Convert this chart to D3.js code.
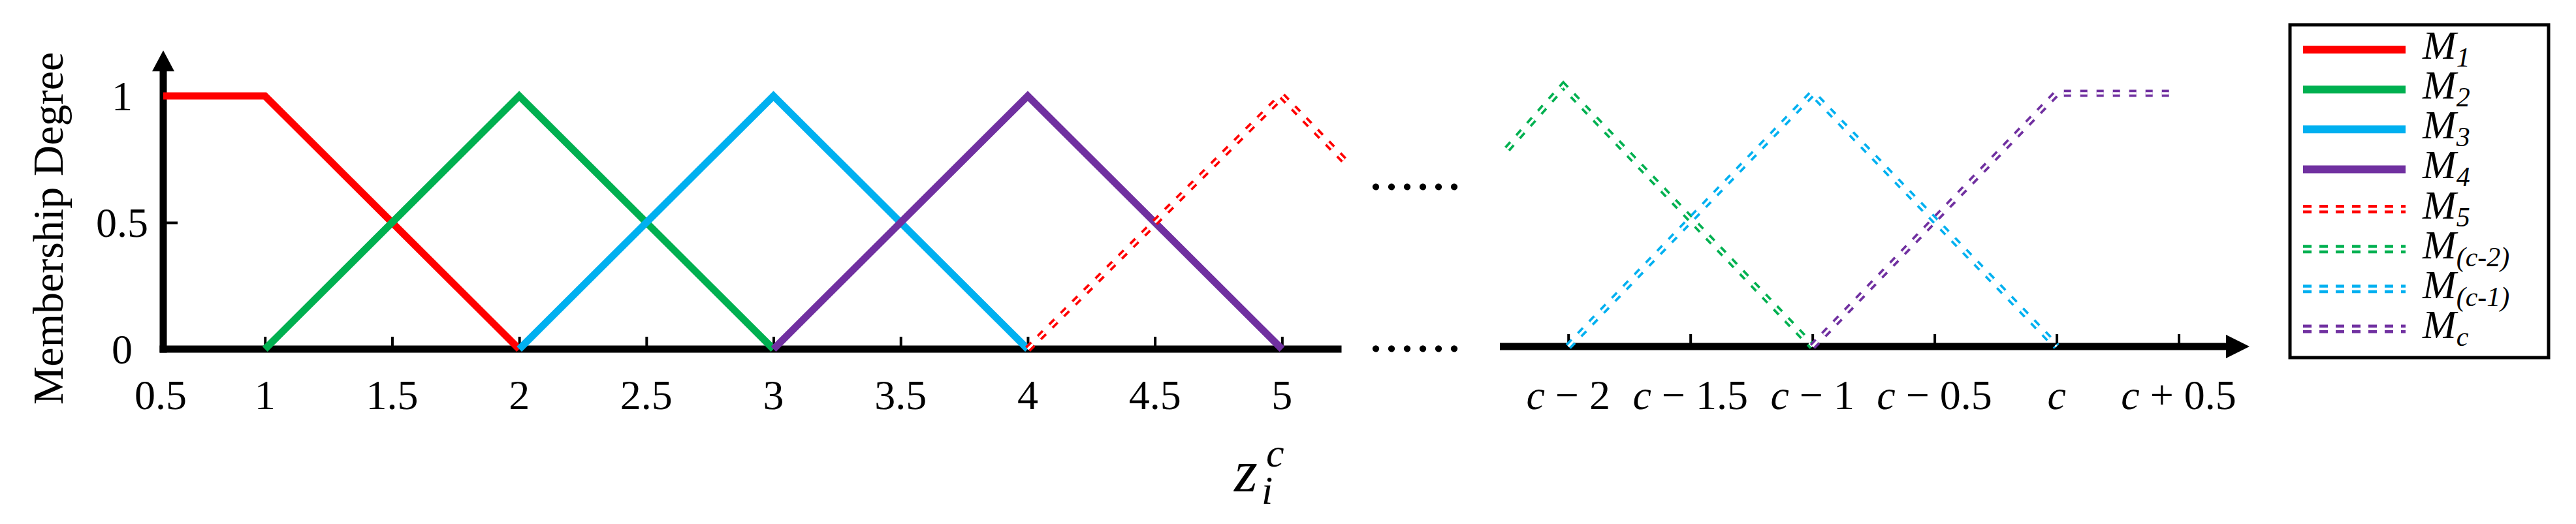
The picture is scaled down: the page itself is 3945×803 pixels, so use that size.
<!DOCTYPE html>
<html>
<head>
<meta charset="utf-8">
<script src="https://cdn.jsdelivr.net/npm/d3@7"></script>
<style>
  body { margin: 0; background: #fff; }
  text { font-family: "Liberation Serif", "Times New Roman", serif; fill: #000; }
</style>
</head>
<body>
<svg id="chart"></svg>
<script>
// tick values and labels
var leftTicks = [1, 1.5, 2, 2.5, 3, 3.5, 4, 4.5, 5];
var leftTickLabels = ["1", "1.5", "2", "2.5", "3", "3.5", "4", "4.5", "5"];
var originLabel = "0.5";
var yTicks = [0, 0.5, 1];
var yTickLabels = ["0", "0.5", "1"];
// right panel ticks are offsets from c
var rightTicks = [-2, -1.5, -1, -0.5, 0, 0.5];
var rightTickLabels = ["c \u2212 2", "c \u2212 1.5", "c \u2212 1", "c \u2212 0.5", "c", "c + 0.5"];

// membership functions, [z, degree]
var m1 = [[0.6, 1], [1, 1], [2, 0]];
var m2 = [[1, 0], [2, 1], [3, 0]];
var m3 = [[2, 0], [3, 1], [4, 0]];
var m4 = [[3, 0], [4, 1], [5, 0]];
var m5 = [[4, 0], [5, 1], [5.25, 0.74]];
var mc2 = [[-2.25, 0.78], [-2.02, 1.03], [-1, 0]];
var mc1 = [[-2, 0], [-1, 1], [0, 0]];
var mc = [[-1, 0], [0, 1], [0.47, 1]];

var legendSubs = ["1", "2", "3", "4", "5", "(c-2)", "(c-1)", "c"];

// styles
var colors = ["#ff0000", "#00b050", "#00b0f0", "#7030a0", "#ff0000", "#00b050", "#00b0f0", "#7030a0"];
var dashed = [false, false, false, false, true, true, true, true];

var width = 3945, height = 803;

var svg = d3.select("#chart")
  .attr("width", width)
  .attr("height", height);

// scales
var xL = d3.scaleLinear().domain([0.6, 5.22]).range([250, 2049]);
var yL = d3.scaleLinear().domain([0, 1]).range([535, 147]);
var xR = d3.scaleLinear().domain([-2.28, 0.79]).range([2297, 3445]);
var yR = d3.scaleLinear().domain([0, 1]).range([531, 143]);

var yTop = 1.18;

// axes lines
svg.append("line")
  .attr("x1", xL(0.6)).attr("x2", xL(5.22))
  .attr("y1", yL(0)).attr("y2", yL(0))
  .attr("stroke", "#000").attr("stroke-width", 11).attr("stroke-linecap", "square");

svg.append("line")
  .attr("x1", xL(0.6)).attr("x2", xL(0.6))
  .attr("y1", yL(0)).attr("y2", yL(yTop) + 25)
  .attr("stroke", "#000").attr("stroke-width", 11).attr("stroke-linecap", "square");

svg.append("path")
  .attr("d", "M" + xL(0.6) + "," + yL(yTop) +
    "L" + (xL(0.6) - 17) + "," + (yL(yTop) + 32) +
    "L" + (xL(0.6) + 17) + "," + (yL(yTop) + 32) + "Z")
  .attr("fill", "#000");

svg.append("line")
  .attr("x1", xR.range()[0]).attr("x2", xR.range()[1] - 30)
  .attr("y1", yR(0)).attr("y2", yR(0))
  .attr("stroke", "#000").attr("stroke-width", 11);

svg.append("path")
  .attr("d", "M" + xR.range()[1] + "," + yR(0) +
    "L" + (xR.range()[1] - 36) + "," + (yR(0) - 18) +
    "L" + (xR.range()[1] - 36) + "," + (yR(0) + 18) + "Z")
  .attr("fill", "#000");

// tick marks
var gxl = svg.append("g")
  .attr("transform", "translate(0," + yL(0) + ")")
  .call(d3.axisBottom(xL).tickValues(leftTicks).tickSize(-19).tickFormat(""));
gxl.select(".domain").remove();
gxl.selectAll(".tick line").attr("stroke-width", 4);

var gxr = svg.append("g")
  .attr("transform", "translate(0," + yR(0) + ")")
  .call(d3.axisBottom(xR).tickValues(rightTicks).tickSize(-19).tickFormat(""));
gxr.select(".domain").remove();
gxr.selectAll(".tick line").attr("stroke-width", 4);

var gy = svg.append("g")
  .attr("transform", "translate(" + xL(0.6) + ",0)")
  .call(d3.axisLeft(yL).tickValues([0.5, 1]).tickSize(-22).tickFormat(""));
gy.select(".domain").remove();
gy.selectAll(".tick line").attr("stroke-width", 4);

// tick labels
svg.append("g").selectAll("text")
  .data(leftTicks)
  .join("text")
  .attr("x", function(d) { return xL(d); })
  .attr("y", 627)
  .attr("text-anchor", "middle")
  .style("font-size", "64px")
  .text(function(d, i) { return leftTickLabels[i]; });

svg.append("text")
  .attr("x", xL(0.6) - 4)
  .attr("y", 627)
  .attr("text-anchor", "middle")
  .style("font-size", "64px")
  .text(originLabel);

svg.append("g").selectAll("text")
  .data(yTicks)
  .join("text")
  .attr("x", 187)
  .attr("y", function(d) { return yL(d); })
  .attr("dy", "0.34em")
  .attr("text-anchor", "middle")
  .style("font-size", "64px")
  .text(function(d, i) { return yTickLabels[i]; });

var rl = svg.append("g").selectAll("text")
  .data(rightTicks)
  .join("text")
  .attr("x", function(d) { return xR(d); })
  .attr("y", 627)
  .attr("text-anchor", "middle")
  .style("font-size", "64px");
rl.append("tspan")
  .style("font-style", "italic")
  .text("c");
rl.append("tspan")
  .text(function(d, i) { return rightTickLabels[i].slice(1); });

// dots between panels
svg.append("g").selectAll("text")
  .data([yL(0.64), yL(0)])
  .join("text")
  .attr("x", 2099)
  .attr("y", function(d) { return d + 4; })
  .style("font-size", "64px")
  .style("font-weight", "bold")
  .style("letter-spacing", "8px")
  .text("......");

// curves
var lineL = d3.line()
  .x(function(d) { return xL(d[0]); })
  .y(function(d) { return yL(d[1]); });
var lineR = d3.line()
  .x(function(d) { return xR(d[0]); })
  .y(function(d) { return yR(d[1]); });

var curves = [m1, m2, m3, m4, m5, mc2, mc1, mc];
var curveG = svg.append("g");

curves.forEach(function(c, i) {
  var ln = i < 5 ? lineL : lineR;
  if (!dashed[i]) {
    curveG.append("path")
      .attr("d", ln(c))
      .attr("fill", "none")
      .attr("stroke", colors[i])
      .attr("stroke-width", 11);
  } else {
    curveG.append("path")
      .attr("d", ln(c))
      .attr("fill", "none")
      .attr("stroke", colors[i])
      .attr("stroke-width", 11)
      .attr("stroke-dasharray", "11 14");
    curveG.append("path")
      .attr("d", ln(c))
      .attr("fill", "none")
      .attr("stroke", "#fff")
      .attr("stroke-width", 3.5)
      .attr("stroke-dasharray", "11 14");
  }
});

// axis titles
svg.append("text")
  .attr("transform", "translate(96,350) rotate(-90)")
  .attr("text-anchor", "middle")
  .style("font-size", "66px")
  .text("Membership Degree");

var zl = svg.append("text")
  .style("font-style", "italic");
zl.append("tspan").attr("x", 1890).attr("y", 753).style("font-size", "92px").text("z");
zl.append("tspan").attr("x", 1932).attr("y", 772).style("font-size", "62px").text("i");
zl.append("tspan").attr("x", 1939).attr("y", 715).style("font-size", "62px").text("c");

// legend
var legend = svg.append("g");
legend.append("rect")
  .attr("x", 3507).attr("y", 38)
  .attr("width", 396).attr("height", 510)
  .attr("fill", "#fff")
  .attr("stroke", "#000")
  .attr("stroke-width", 5);

var rowY = d3.scalePoint().domain(d3.range(legendSubs.length)).range([76, 504]);

legendSubs.forEach(function(s, i) {
  var y = rowY(i);
  if (!dashed[i]) {
    legend.append("line")
      .attr("x1", 3527).attr("x2", 3684)
      .attr("y1", y).attr("y2", y)
      .attr("stroke", colors[i]).attr("stroke-width", 12);
  } else {
    legend.append("line")
      .attr("x1", 3527).attr("x2", 3684)
      .attr("y1", y).attr("y2", y)
      .attr("stroke", colors[i]).attr("stroke-width", 13)
      .attr("stroke-dasharray", "13 12");
    legend.append("line")
      .attr("x1", 3527).attr("x2", 3684)
      .attr("y1", y).attr("y2", y)
      .attr("stroke", "#fff").attr("stroke-width", 4);
  }
  var t = legend.append("text")
    .attr("x", 3710)
    .attr("y", y + 14)
    .style("font-style", "italic")
    .style("font-size", "62px");
  t.append("tspan").text("M");
  t.append("tspan")
    .attr("dy", 12)
    .style("font-size", "42px")
    .text(s);
});
</script>
</body>
</html>
